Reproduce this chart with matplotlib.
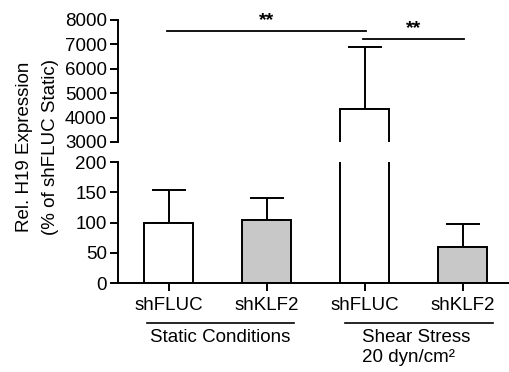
import matplotlib
matplotlib.use("Agg")
import matplotlib.pyplot as plt
import matplotlib.transforms as mtransforms

plt.rcParams['font.family'] = ['Liberation Sans', 'DejaVu Sans']

# Data
categories = ["shFLUC", "shKLF2", "shFLUC", "shKLF2"]
means = [100, 104, 4350, 60]
err_top = [153, 140, 6900, 98]
colors = ["white", "#c8c8c8", "white", "#c8c8c8"]
groups = ["Static Conditions", "Shear Stress\n20 dyn/cm\u00b2"]
low_ticks = [0, 50, 100, 150, 200]
high_ticks = [3000, 4000, 5000, 6000, 7000, 8000]
sig_pairs = [(0, 2, 7550, "**"), (2, 3, 7220, "**")]

W, H = 510, 372
fig = plt.figure(figsize=(W / 100, H / 100), dpi=100)

def fy(px):
    return 1 - px / H

left = 118 / W
ax_lo = fig.add_axes([left, fy(283), 1 - left, (283 - 162) / H])
ax_hi = fig.add_axes([left, fy(142), 1 - left, (142 - 20) / H])

x = list(range(len(categories)))
fs = 13.5
lw = 1.4
for ax in (ax_lo, ax_hi):
    ax.bar(x, means, width=0.5, color=colors, edgecolor="black", linewidth=lw, zorder=2)
    ax.errorbar(x, means, yerr=[[0] * 4, [e - m for e, m in zip(err_top, means)]],
                fmt="none", ecolor="black", elinewidth=lw, capsize=12, capthick=lw, zorder=1)
    ax.set_xlim(-0.52, 3.48)
    for s in ("top", "right"):
        ax.spines[s].set_visible(False)
    ax.spines["left"].set_linewidth(lw)
    ax.spines["bottom"].set_linewidth(lw)
    ax.tick_params(axis="y", length=6, width=lw, labelsize=fs, pad=2)

ax_lo.set_ylim(0, 200)
ax_lo.set_yticks(low_ticks)
ax_lo.set_xticks(x)
ax_lo.set_xticklabels(categories, fontsize=fs)
ax_lo.tick_params(axis="x", length=6, width=lw, pad=4)

ax_hi.set_ylim(3000, 8000)
ax_hi.set_yticks(high_ticks)
ax_hi.spines["bottom"].set_visible(False)
ax_hi.set_xticks([])

# significance lines
for a, b, yv, txt in sig_pairs:
    ax_hi.plot([a - 0.02, b + 0.01], [yv, yv], color="black", lw=1.3, clip_on=False)
    ax_hi.text((a + b) / 2 if b - a == 1 else a + 1, yv + 90, txt, ha="center", va="bottom",
               fontsize=14, fontweight="bold", clip_on=False)

# group lines and labels
trans = mtransforms.blended_transform_factory(ax_lo.transData, fig.transFigure)
ax_lo.plot([-0.22, 1.28], [fy(323), fy(323)], color="black", lw=1.2, transform=trans, clip_on=False)
ax_lo.plot([1.80, 3.31], [fy(323), fy(323)], color="black", lw=1.2, transform=trans, clip_on=False)
ax_lo.text(0.52, fy(337), groups[0], ha="center", va="center", fontsize=fs, transform=trans)
g2 = groups[1].split("\n")
ax_lo.text(1.97, fy(337), g2[0], ha="left", va="center", fontsize=fs, transform=trans)
ax_lo.text(1.97, fy(358), g2[1], ha="left", va="center", fontsize=fs, transform=trans)

# y label
fig.text(25 / W, fy(147), "Rel. H19 Expression", rotation=90, ha="center", va="center", fontsize=fs)
fig.text(51 / W, fy(147), "(% of shFLUC Static)", rotation=90, ha="center", va="center", fontsize=fs)

fig.savefig("out.png", dpi=100)
